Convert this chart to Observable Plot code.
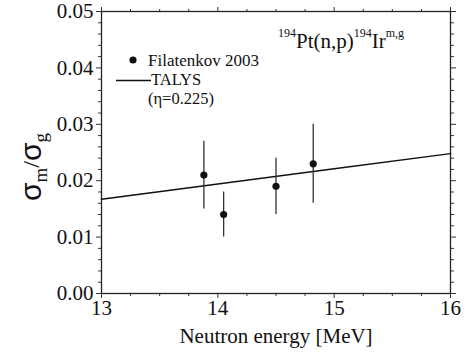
<!DOCTYPE html>
<html>
<head>
<meta charset="utf-8">
<script src="https://cdn.jsdelivr.net/npm/d3@7"></script>
<script src="https://cdn.jsdelivr.net/npm/@observablehq/plot@0.6"></script>
<style>
  html, body { margin: 0; padding: 0; background: #fff; }
  #chart svg { font-family: "Liberation Serif", "Times New Roman", serif; }
</style>
</head>
<body>
<div id="chart"></div>
<script>
// Experimental data (Filatenkov 2003)
const energy = [13.88, 14.05, 14.50, 14.82];
const ratio = [0.021, 0.014, 0.019, 0.023];
const ratioErr = [0.006, 0.004, 0.005, 0.007];
// TALYS calculation (eta = 0.225)
const talysEnergy = [13, 14, 15, 16];
const talysRatio = [0.0167, 0.0194, 0.0221, 0.0248];
// Axis ticks
const xMajor = [13, 14, 15, 16];
const xMinor = [13.25, 13.5, 13.75, 14.25, 14.5, 14.75, 15.25, 15.5, 15.75];
const yMajor = [0, 0.01, 0.02, 0.03, 0.04, 0.05];
const yMinor = [0.002, 0.004, 0.006, 0.008, 0.012, 0.014, 0.016, 0.018, 0.022, 0.024, 0.026, 0.028,
                0.032, 0.034, 0.036, 0.038, 0.042, 0.044, 0.046, 0.048];
const xLabel = "Neutron energy [MeV]";
const legendLabels = ["Filatenkov 2003", "TALYS", "(η=0.225)"];

const expData = energy.map((e, i) => ({e, r: ratio[i], lo: ratio[i] - ratioErr[i], hi: ratio[i] + ratioErr[i]}));
const talysData = talysEnergy.map((e, i) => ({e, r: talysRatio[i]}));

const serif = '"Liberation Serif", "Times New Roman", serif';
const sans = '"Liberation Sans", Arial, sans-serif';
const blank = () => "";

const chart = Plot.plot({
  width: 469,
  height: 360,
  marginLeft: 101,
  marginRight: 19,
  marginTop: 11,
  marginBottom: 67,
  style: {fontSize: "21px", color: "#111", background: "#fff", overflow: "visible"},
  x: {domain: [13, 16]},
  y: {domain: [0, 0.05]},
  marks: [
    Plot.axisX({ticks: xMajor, tickSize: 5, tickPadding: 2, tickFormat: d => String(d), label: null, stroke: "#333", fontSize: 21, fontFamily: serif}),
    Plot.axisX({ticks: xMinor, tickSize: 3, tickFormat: blank, label: null, stroke: "#333"}),
    Plot.axisX({anchor: "top", ticks: xMajor, tickSize: 5, tickFormat: blank, label: null, stroke: "#333"}),
    Plot.axisX({anchor: "top", ticks: xMinor, tickSize: 3, tickFormat: blank, label: null, stroke: "#333"}),
    Plot.axisY({ticks: yMajor, tickSize: 5, tickPadding: 3, tickFormat: d3.format(".2f"), label: null, stroke: "#333", fontSize: 21, fontFamily: serif}),
    Plot.axisY({ticks: yMinor, tickSize: 3, tickFormat: blank, label: null, stroke: "#333"}),
    Plot.axisY({anchor: "right", ticks: yMajor, tickSize: 5, tickFormat: blank, label: null, stroke: "#333"}),
    Plot.axisY({anchor: "right", ticks: yMinor, tickSize: 3, tickFormat: blank, label: null, stroke: "#333"}),
    Plot.frame({stroke: "#222", strokeWidth: 1.3}),
    Plot.line(talysData, {x: "e", y: "r", stroke: "#111", strokeWidth: 1.5}),
    Plot.ruleX(expData, {x: "e", y1: "lo", y2: "hi", stroke: "#333", strokeWidth: 1.3}),
    Plot.dot(expData, {x: "e", y: "r", r: 3.6, fill: "#111", stroke: "none"}),
    Plot.text([xLabel], {frameAnchor: "bottom", dy: 49, fontSize: 21, fill: "#111", fontFamily: serif})
  ]
});
document.getElementById("chart").appendChild(chart);
d3.select(chart).style("font-family", serif);

// Extra annotation text: y label, reaction title, legend
const svg = d3.select(chart);
const ns = svg.append("g").attr("fill", "#111").attr("text-anchor", "start").style("font-family", serif);

// Y-axis label: sigma_m / sigma_g
const yl = ns.append("text")
  .attr("transform", "translate(41,167) rotate(-90)")
  .attr("text-anchor", "middle");
yl.append("tspan").style("font-family", sans).attr("font-size", 30).text("σ");
yl.append("tspan").attr("font-size", 19).attr("dy", 6).text("m");
yl.append("tspan").attr("font-size", 24).attr("dy", -8).text("/");
yl.append("tspan").style("font-family", sans).attr("font-size", 30).attr("dy", 2).text("σ");
yl.append("tspan").attr("font-size", 19).attr("dy", 6).text("g");

// Reaction title
const tt = ns.append("text").attr("x", 278).attr("y", 48).attr("font-size", 21);
tt.append("tspan").attr("font-size", 12).attr("dy", -11).text("194");
tt.append("tspan").attr("dy", 11).text("Pt(n,p)");
tt.append("tspan").attr("font-size", 12).attr("dy", -11).text("194");
tt.append("tspan").attr("dy", 11).text("Ir");
tt.append("tspan").attr("font-size", 12).attr("dy", -11).text("m,g");

// Legend
ns.append("circle").attr("cx", 133).attr("cy", 60).attr("r", 3.6);
ns.append("text").attr("x", 148).attr("y", 60).attr("dy", "0.35em").attr("font-size", 17).text(legendLabels[0]);
ns.append("line").attr("x1", 116).attr("x2", 151).attr("y1", 80.5).attr("y2", 80.5).attr("stroke", "#111").attr("stroke-width", 1.5);
ns.append("text").attr("x", 151).attr("y", 79).attr("dy", "0.35em").attr("font-size", 16.5).text(legendLabels[1]);
ns.append("text").attr("x", 148).attr("y", 98.5).attr("dy", "0.35em").attr("font-size", 16.5).text(legendLabels[2]);
</script>
</body>
</html>
